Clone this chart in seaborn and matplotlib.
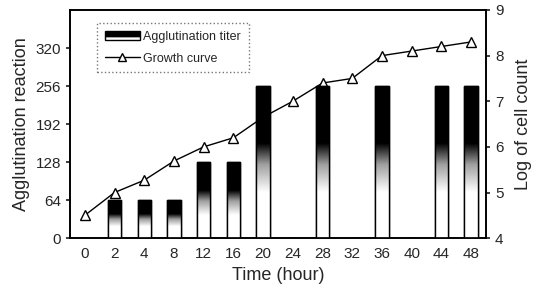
import numpy as np
import pandas as pd
import matplotlib
matplotlib.use("Agg")
import matplotlib.pyplot as plt
import seaborn as sns
from matplotlib.colors import LinearSegmentedColormap
from matplotlib.patches import Rectangle
from matplotlib.lines import Line2D
from matplotlib.legend_handler import HandlerBase

times = ["0", "2", "4", "8", "12", "16", "20", "24", "28", "32", "36", "40", "44", "48"]
titer = [0, 64, 64, 64, 128, 128, 256, 0, 256, 0, 256, 0, 256, 256]
growth = [4.5, 5.0, 5.27, 5.69, 6.0, 6.2, 6.65, 7.0, 7.4, 7.5, 8.0, 8.1, 8.2, 8.3]
left_ticks = [0, 64, 128, 192, 256, 320]
right_ticks = [4, 5, 6, 7, 8, 9]

sns.set_theme(style="white")
plt.rcParams["font.family"] = ["Liberation Sans", "DejaVu Sans"]

df = pd.DataFrame({"time": times, "titer": titer, "growth": growth})

fig = plt.figure(figsize=(5.34, 2.94), dpi=100)
ax = fig.add_axes([0.131, 0.19, 0.779, 0.776])
ax2 = ax.twinx()

sns.barplot(data=df, x="time", y="titer", order=times, color="white",
            edgecolor="black", linewidth=1.0, width=0.45, ax=ax, zorder=2)

# gradient fill: black top, white bottom
cmap = LinearSegmentedColormap.from_list(
    "g", [(0.0, "white"), (0.30, "white"), (0.48, "#a0a0a0"), (0.62, "black"), (1.0, "black")])
grad = np.linspace(0, 1, 256).reshape(-1, 1)
for p in ax.patches:
    h = p.get_height()
    if h <= 0:
        continue
    x0 = p.get_x(); w = p.get_width()
    im = ax.imshow(grad, cmap=cmap, origin="lower", aspect="auto",
                   extent=[x0, x0 + w, 0, h], zorder=2.5)
    im.set_clip_path(p)
    r = Rectangle((x0, 0), w, h, fill=False, edgecolor="black", linewidth=1.0, zorder=3)
    ax.add_patch(r)

ax.set_xlim(-0.5, len(times) - 0.5)
ax.set_ylim(0, 384)
ax.set_yticks(left_ticks)
ax.set_ylabel("Agglutination reaction", fontsize=13)
ax.set_xlabel("Time (hour)", fontsize=13)
ax.tick_params(axis="both", labelsize=11, length=3, direction="out", left=True, bottom=False)

sns.lineplot(x=np.arange(len(times)), y=growth, ax=ax2, color="black", linewidth=1.0,
             marker="^", markersize=7, markerfacecolor="white", markeredgecolor="black",
             markeredgewidth=1.0, zorder=4)
ax2.set_ylim(4, 9)
ax2.set_yticks(right_ticks)
ax2.set_ylabel("Log of cell count", fontsize=13, labelpad=8)
ax2.tick_params(axis="y", labelsize=11, length=3, direction="out", right=True)
ax2.set_xlim(-0.5, len(times) - 0.5)

# bars drawn above the growth line
ax.set_zorder(ax2.get_zorder() + 1)
ax.patch.set_visible(False)

for a in (ax, ax2):
    for s in a.spines.values():
        s.set_color("black")
        s.set_linewidth(1.2)


class GradHandler(HandlerBase):
    def create_artists(self, legend, orig_handle, xdescent, ydescent, width, height, fontsize, trans):
        top = Rectangle((-xdescent, -ydescent + height * 0.45), width, height * 0.55,
                        facecolor="black", edgecolor="black", transform=trans)
        bot = Rectangle((-xdescent, -ydescent), width, height * 0.45,
                        facecolor="white", edgecolor="black", linewidth=1.0, transform=trans)
        return [bot, top]


bar_handle = Rectangle((0, 0), 1, 1)
line_handle = Line2D([], [], color="black", linewidth=1.0, marker="^", markersize=6,
                     markerfacecolor="white", markeredgecolor="black")
leg = ax.legend([bar_handle, line_handle], ["Agglutination titer", "Growth curve"],
                handler_map={Rectangle: GradHandler()},
                loc="upper left", bbox_to_anchor=(0.05, 0.97), fontsize=9,
                frameon=True, fancybox=False, handlelength=2.8, handletextpad=0.3,
                borderpad=0.6, labelspacing=0.8)
leg.get_frame().set_edgecolor("#555555")
leg.get_frame().set_linestyle(":")
leg.get_frame().set_linewidth(1.0)
leg.set_zorder(10)

fig.savefig("out.png", dpi=100)
